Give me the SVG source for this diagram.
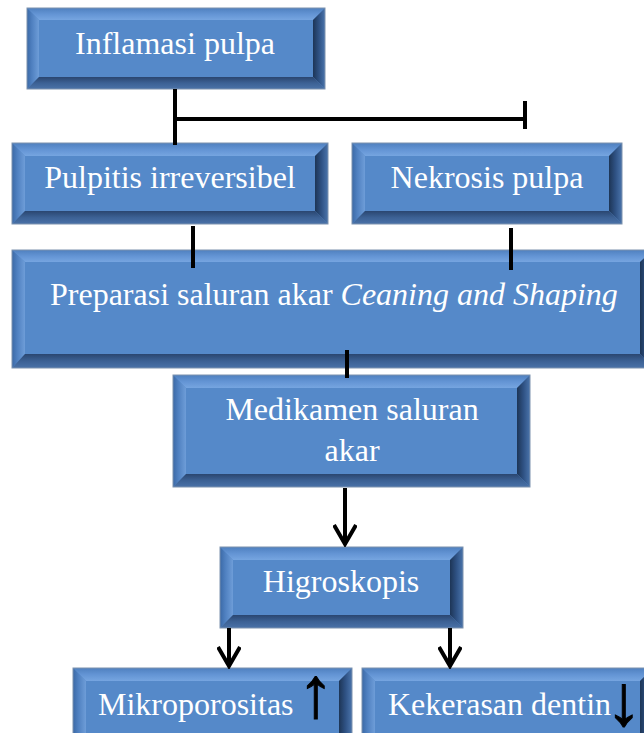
<svg xmlns="http://www.w3.org/2000/svg" width="644" height="733" viewBox="0 0 644 733">
<defs>
<linearGradient id="gt" x1="0" y1="0" x2="0" y2="1"><stop offset="0" stop-color="#4f80bf"/><stop offset="0.5" stop-color="#6394d4"/><stop offset="1" stop-color="#76a5e0"/></linearGradient>
<linearGradient id="gl" x1="0" y1="0" x2="1" y2="0"><stop offset="0" stop-color="#3b69a6"/><stop offset="0.4" stop-color="#4f80c0"/><stop offset="1" stop-color="#6e9dd8"/></linearGradient>
<linearGradient id="gr" x1="0" y1="0" x2="1" y2="0"><stop offset="0" stop-color="#1d3556"/><stop offset="0.5" stop-color="#2f5284"/><stop offset="1" stop-color="#4a74ab"/></linearGradient>
<linearGradient id="gb" x1="0" y1="0" x2="0" y2="1"><stop offset="0" stop-color="#2a4670"/><stop offset="0.5" stop-color="#3c6194"/><stop offset="1" stop-color="#4a72a8"/></linearGradient>
<marker id="ah" viewBox="0 0 24 24" refX="21" refY="12" markerWidth="24" markerHeight="24" markerUnits="userSpaceOnUse" orient="auto">
<path d="M2,1 L21,12 L2,23" fill="none" stroke="#000" stroke-width="4"/>
</marker>
</defs>
<style>
.face{fill:#5589c9}
.bt{fill:url(#gt)}
.bl{fill:url(#gl)}
.br{fill:url(#gr)}
.bb{fill:url(#gb)}
.edge{fill:none;stroke:#7d92ae;stroke-width:1}
.lbl{font-family:"Liberation Serif","Times New Roman",serif;font-size:32px;fill:#ffffff}
.it{font-style:italic}
.sym{font-family:"Liberation Serif","Times New Roman",serif;font-size:72px;fill:#000000;stroke:#000000;stroke-width:1}
.con{fill:none;stroke:#000;stroke-width:4}
</style>

<g id="n1">
<rect class="face" x="27" y="8" width="298" height="81"/>
<polygon class="bt" points="27,8 325,8 313,20 39,20"/>
<polygon class="bl" points="27,8 39,20 39,77 27,89"/>
<polygon class="br" points="325,8 325,89 313,77 313,20"/>
<polygon class="bb" points="27,89 325,89 313,77 39,77"/>
<rect class="edge" x="27" y="8" width="298" height="81"/>
<text class="lbl" x="175" y="54" text-anchor="middle">Inflamasi pulpa</text>
</g>

<g id="n2">
<rect class="face" x="12" y="143" width="316" height="81"/>
<polygon class="bt" points="12,143 328,143 315,156 25,156"/>
<polygon class="bl" points="12,143 25,156 25,211 12,224"/>
<polygon class="br" points="328,143 328,224 315,211 315,156"/>
<polygon class="bb" points="12,224 328,224 315,211 25,211"/>
<rect class="edge" x="12" y="143" width="316" height="81"/>
<text class="lbl" x="170" y="188" text-anchor="middle">Pulpitis irreversibel</text>
</g>

<g id="n3">
<rect class="face" x="352" y="143" width="270" height="81"/>
<polygon class="bt" points="352,143 622,143 609,156 365,156"/>
<polygon class="bl" points="352,143 365,156 365,211 352,224"/>
<polygon class="br" points="622,143 622,224 609,211 609,156"/>
<polygon class="bb" points="352,224 622,224 609,211 365,211"/>
<rect class="edge" x="352" y="143" width="270" height="81"/>
<text class="lbl" x="487" y="188" text-anchor="middle">Nekrosis pulpa</text>
</g>

<g id="n4">
<rect class="face" x="12" y="250" width="641" height="118"/>
<polygon class="bt" points="12,250 653,250 640,262 25,262"/>
<polygon class="bl" points="12,250 25,262 25,354 12,368"/>
<polygon class="br" points="653,250 653,368 640,354 640,262"/>
<polygon class="bb" points="12,368 653,368 640,354 25,354"/>
<rect class="edge" x="12" y="250" width="641" height="118"/>
<text class="lbl" x="50" y="305">Preparasi saluran akar <tspan class="it">Ceaning and Shaping</tspan></text>
</g>

<g id="n5">
<rect class="face" x="173" y="375" width="357" height="112"/>
<polygon class="bt" points="173,375 530,375 517,388 186,388"/>
<polygon class="bl" points="173,375 186,388 186,474 173,487"/>
<polygon class="br" points="530,375 530,487 517,474 517,388"/>
<polygon class="bb" points="173,487 530,487 517,474 186,474"/>
<rect class="edge" x="173" y="375" width="357" height="112"/>
<text class="lbl" x="352" y="420" text-anchor="middle">Medikamen saluran</text>
<text class="lbl" x="352" y="461" text-anchor="middle">akar</text>
</g>

<g id="n6">
<rect class="face" x="220" y="547" width="243" height="81"/>
<polygon class="bt" points="220,547 463,547 450,560 233,560"/>
<polygon class="bl" points="220,547 233,560 233,615 220,628"/>
<polygon class="br" points="463,547 463,628 450,615 450,560"/>
<polygon class="bb" points="220,628 463,628 450,615 233,615"/>
<rect class="edge" x="220" y="547" width="243" height="81"/>
<text class="lbl" x="341" y="592" text-anchor="middle">Higroskopis</text>
</g>

<g id="n7">
<rect class="face" x="73" y="668" width="279" height="81"/>
<polygon class="bt" points="73,668 352,668 339,681 86,681"/>
<polygon class="bl" points="73,668 86,681 86,736 73,749"/>
<polygon class="br" points="352,668 352,749 339,736 339,681"/>
<polygon class="bb" points="73,749 352,749 339,736 86,736"/>
<rect class="edge" x="73" y="668" width="279" height="81"/>
<text class="lbl" x="98" y="715">Mikroporositas <tspan class="sym" x="316" y="717" text-anchor="middle">↑</tspan></text>
</g>

<g id="n8">
<rect class="face" x="362" y="668" width="291" height="81"/>
<polygon class="bt" points="362,668 653,668 640,681 375,681"/>
<polygon class="bl" points="362,668 375,681 375,736 362,749"/>
<polygon class="br" points="653,668 653,749 640,736 640,681"/>
<polygon class="bb" points="362,749 653,749 640,736 375,736"/>
<rect class="edge" x="362" y="668" width="291" height="81"/>
<text class="lbl" x="388" y="715">Kekerasan dentin<tspan class="sym" x="624" y="725" text-anchor="middle">↓</tspan></text>
</g>

<g id="connectors">
<path class="con" d="M175,89 V145"/>
<path class="con" d="M175,119 H525"/>
<path class="con" d="M525,101 V129"/>
<path class="con" d="M193,226 V268"/>
<path class="con" d="M511,228 V270"/>
<path class="con" d="M347,350 V378"/>
<path class="con" d="M345,488 V544" marker-end="url(#ah)"/>
<path class="con" d="M229,628 V666" marker-end="url(#ah)"/>
<path class="con" d="M450,628 V666" marker-end="url(#ah)"/>
</g>
</svg>
